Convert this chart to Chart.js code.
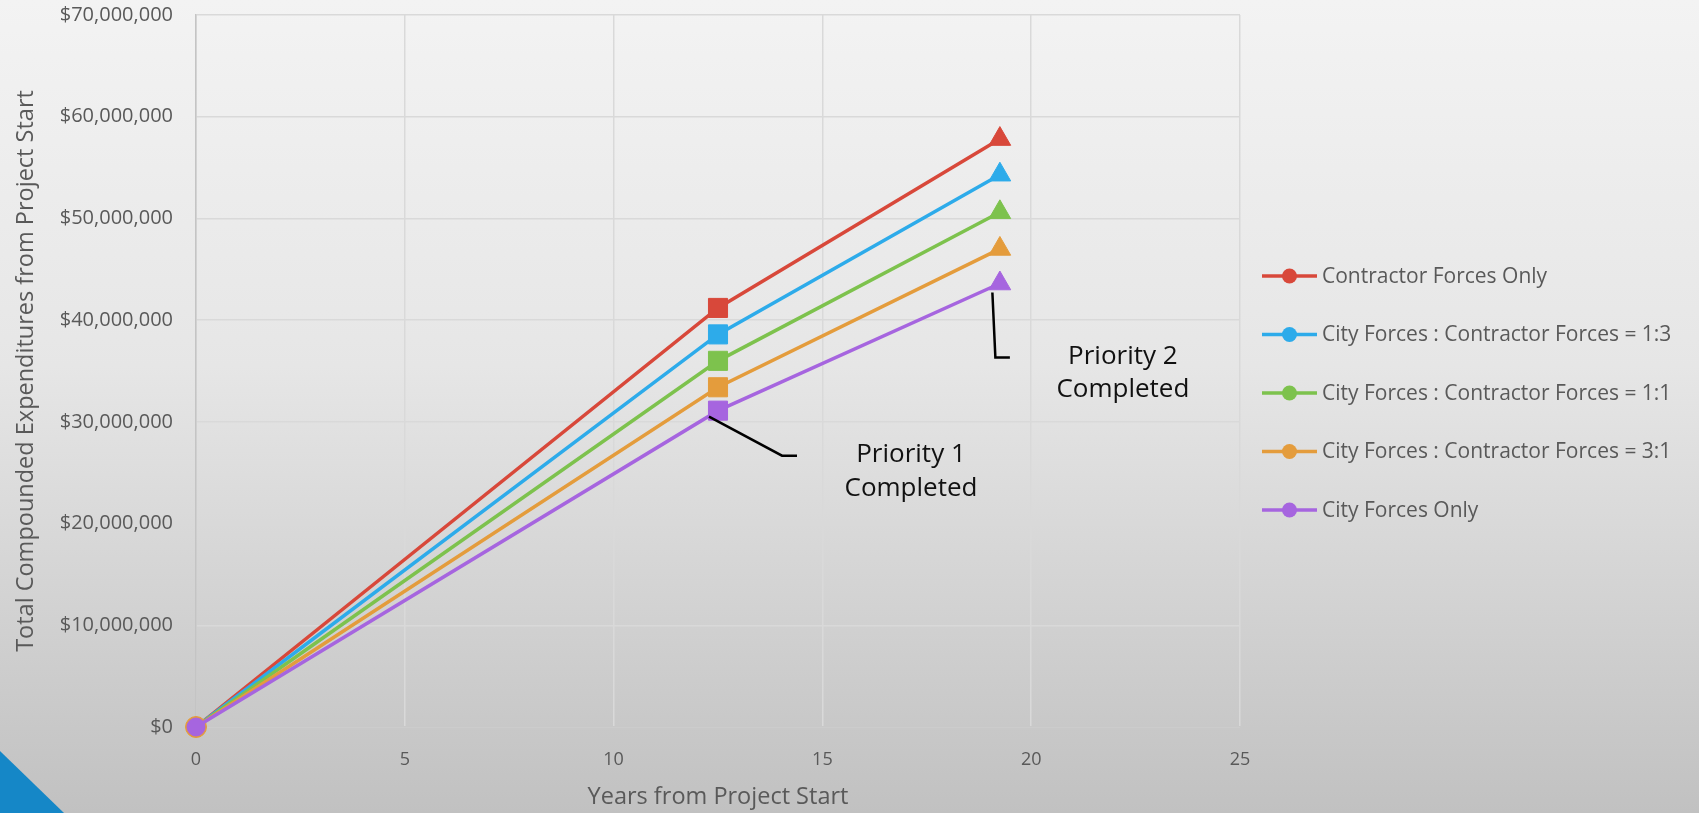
<!DOCTYPE html>
<html>
<head>
<meta charset="utf-8">
<title>Total Compounded Expenditures</title>
<script src="https://cdn.jsdelivr.net/npm/chart.js@4/dist/chart.umd.min.js"></script>
<style>
  html, body { margin: 0; padding: 0; }
  body {
    width: 1699px; height: 813px; overflow: hidden; position: relative;
    background: linear-gradient(to bottom, #f3f3f3 0%, #e6e6e6 45%, #c1c1c1 100%);
  }
  #corner {
    position: absolute; left: 0; bottom: 0; width: 64px; height: 62px;
    background: #1587c7; clip-path: polygon(0 0, 100% 100%, 0 100%);
  }
  #chart { position: absolute; left: 0; top: 0; }
</style>
</head>
<body>
<div id="corner"></div>
<canvas id="chart" width="1699" height="813"></canvas>
<script>
// Years elapsed at each milestone: start, Priority 1 done, Priority 2 done
const years = [0, 12.5, 19.25];

// Cumulative compounded expenditures ($) per delivery scenario
const contractorOnly   = [0, 41.2e6, 57.8e6];
const cityContractor13 = [0, 38.6e6, 54.3e6];
const cityContractor11 = [0, 36.0e6, 50.6e6];
const cityContractor31 = [0, 33.4e6, 47.0e6];
const cityOnly         = [0, 31.1e6, 43.6e6];

const seriesLabels = [
  'Contractor Forces Only',
  'City Forces : Contractor Forces = 1:3',
  'City Forces : Contractor Forces = 1:1',
  'City Forces : Contractor Forces = 3:1',
  'City Forces Only'
];
const seriesValues = [contractorOnly, cityContractor13, cityContractor11, cityContractor31, cityOnly];
const seriesColors = ['#d8483a', '#2dabea', '#7dc24d', '#e49c3c', '#a665df'];

const xTickStep = 5, xMax = 25;
const yTickStep = 10e6, yMax = 70e6;

const milestoneNotes = [
  { point: 1, lines: ['Priority 1', 'Completed'] },
  { point: 2, lines: ['Priority 2', 'Completed'] }
];

const FONT = "'Open Sans', 'DejaVu Sans', sans-serif";
const GREY_TEXT = '#595959';

const datasets = seriesValues.map((vals, i) => ({
  label: seriesLabels[i],
  data: years.map((x, k) => ({ x: x, y: vals[k] })),
  borderColor: seriesColors[i],
  backgroundColor: seriesColors[i],
  pointBackgroundColor: seriesColors[i],
  pointBorderColor: seriesColors[i],
  borderWidth: 3.5,
  pointBorderWidth: 1,
  pointStyle: ['circle', 'rect', 'triangle'],
  pointRadius: [i === 3 ? 10.5 : 9, 13.5, 12.5],
  showLine: true,
  tension: 0,
  clip: false,
  order: seriesValues.length - 1 - i
}));

// Callout leader lines + captions anchored at the City Forces Only milestones
const calloutPlugin = {
  id: 'callouts',
  afterDatasetsDraw(chart) {
    const ctx = chart.ctx;
    const meta = chart.getDatasetMeta(seriesValues.length - 1);
    const p1 = meta.data[milestoneNotes[0].point];
    const p2 = meta.data[milestoneNotes[1].point];
    ctx.save();
    ctx.strokeStyle = '#000';
    ctx.lineWidth = 2.5;
    ctx.lineJoin = 'miter';
    ctx.beginPath();
    ctx.moveTo(p1.x - 9, p1.y + 6);
    ctx.lineTo(p1.x + 64, p1.y + 45);
    ctx.lineTo(p1.x + 79, p1.y + 45);
    ctx.stroke();
    ctx.beginPath();
    ctx.moveTo(p2.x - 7.5, p2.y + 9);
    ctx.lineTo(p2.x - 4.5, p2.y + 74);
    ctx.lineTo(p2.x + 10, p2.y + 74);
    ctx.stroke();

    ctx.fillStyle = '#111';
    ctx.font = '26px ' + FONT;
    ctx.textAlign = 'center';
    ctx.textBaseline = 'middle';
    milestoneNotes[0].lines.forEach((t, k) => ctx.fillText(t, p1.x + 193, p1.y + 44 + k * 34));
    milestoneNotes[1].lines.forEach((t, k) => ctx.fillText(t, p2.x + 123, p2.y + 73 + k * 33));
    ctx.restore();
  }
};

// Legend panel to the right of the plot
const sideLegendPlugin = {
  id: 'sideLegend',
  afterDraw(chart) {
    const ctx = chart.ctx;
    const x0 = chart.chartArea.right + 22;
    const firstY = 276, rowGap = 58.5;
    ctx.save();
    ctx.font = '21px ' + FONT;
    ctx.textAlign = 'left';
    ctx.textBaseline = 'middle';
    chart.data.datasets.forEach((ds, i) => {
      const y = firstY + i * rowGap;
      ctx.strokeStyle = ds.borderColor;
      ctx.lineWidth = 3.5;
      ctx.beginPath();
      ctx.moveTo(x0, y);
      ctx.lineTo(x0 + 55, y);
      ctx.stroke();
      ctx.fillStyle = ds.borderColor;
      ctx.beginPath();
      ctx.arc(x0 + 27.5, y, 7.5, 0, Math.PI * 2);
      ctx.fill();
      ctx.fillStyle = GREY_TEXT;
      ctx.fillText(ds.label, x0 + 60, y + 1);
    });
    ctx.restore();
  }
};

new Chart(document.getElementById('chart'), {
  type: 'line',
  data: { datasets },
  options: {
    responsive: false,
    animation: false,
    devicePixelRatio: 1,
    layout: { padding: { top: 15, right: 459, bottom: 0, left: 0 } },
    plugins: {
      legend: { display: false },
      tooltip: { enabled: false }
    },
    scales: {
      x: {
        type: 'linear',
        min: 0,
        max: xMax,
        ticks: {
          stepSize: xTickStep,
          color: GREY_TEXT,
          font: { family: FONT, size: 18 },
          padding: 22,
          maxRotation: 0
        },
        grid: { color: '#d9d9d9', lineWidth: 1.5, drawTicks: false },
        border: { color: '#c8c8c8', width: 1.5 },
        title: {
          display: true,
          text: 'Years from Project Start',
          color: GREY_TEXT,
          font: { family: FONT, size: 23.5 },
          padding: { top: 0, bottom: 2 }
        },
        afterFit(scale) {
          scale.height = 86;
          scale.paddingLeft = 0;
          scale.paddingRight = 0;
        }
      },
      y: {
        type: 'linear',
        min: 0,
        max: yMax,
        ticks: {
          stepSize: yTickStep,
          color: GREY_TEXT,
          font: { family: FONT, size: 20 },
          padding: 23,
          callback: v => '$' + Number(v).toLocaleString('en-US')
        },
        grid: { color: '#d9d9d9', lineWidth: 1.5, drawTicks: false },
        border: { color: '#c4c4c4', width: 1.5 },
        title: {
          display: true,
          text: 'Total Compounded Expenditures from Project Start',
          color: GREY_TEXT,
          font: { family: FONT, size: 23.5 },
          padding: { top: 12, bottom: 0 }
        },
        afterFit(scale) {
          scale.width = 196;
          scale.paddingTop = 0;
          scale.paddingBottom = 0;
        }
      }
    }
  },
  plugins: [calloutPlugin, sideLegendPlugin]
});
</script>
</body>
</html>
